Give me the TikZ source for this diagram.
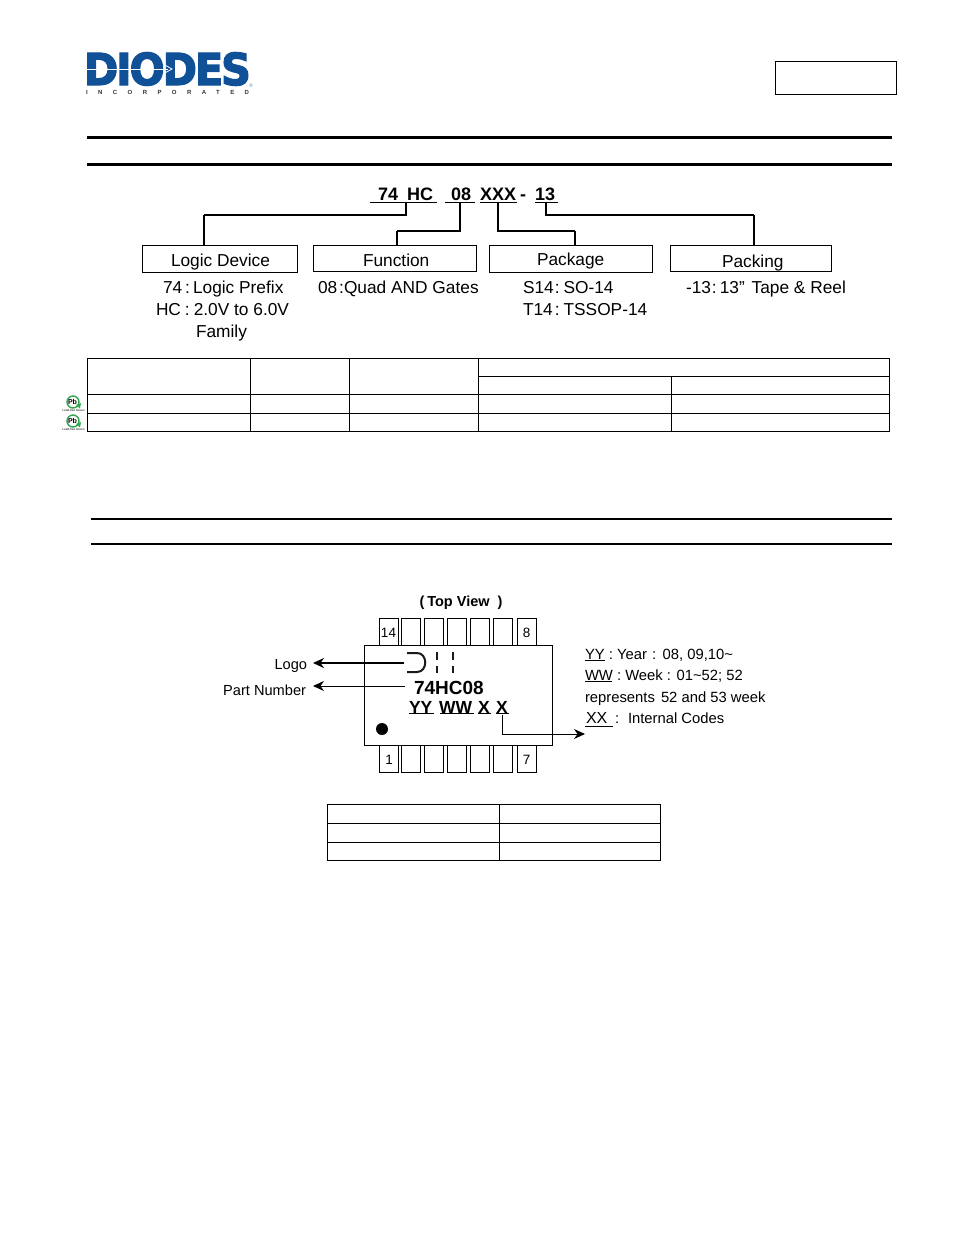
\documentclass[tikz,border=0pt]{standalone}
\usepackage{fontspec}
\setmainfont{Liberation Sans}
\newfontfamily\logofont[FakeBold=3,LetterSpace=-5]{DejaVu Sans}
\newfontfamily\incfont[LetterSpace=174]{Liberation Sans}
\usetikzlibrary{arrows.meta}
\definecolor{diodesblue}{HTML}{0F5096}
\definecolor{leafgreen}{HTML}{2FA84F}
\definecolor{chipink}{HTML}{1A1A1A}
\newcommand{\sz}[1]{\fontsize{#1}{#1}\selectfont}

\begin{document}
\begin{tikzpicture}[
  x=1pt,
  y=-1pt,
  every node/.style={inner sep=0pt, outer sep=0pt, text=black},
  heavyrule/.style={black, line width=3pt},
  lightrule/.style={black, line width=1.8pt},
  grid/.style={black, line width=0.9pt},
  catbox/.style={draw=black, line width=1pt, anchor=north west},
  link/.style={black, line width=1.2pt},
  boldlink/.style={black, line width=1.8pt},
  uline/.style={black, line width=1pt},
  codetext/.style={anchor=base west, font=\sz{18}\bfseries},
  desc/.style={anchor=base west, font=\sz{17.3}},
  note/.style={anchor=base west, font=\sz{14.8}},
  pinbox/.style={draw=black, line width=1pt, anchor=north west,
                 minimum width=19pt, minimum height=27pt},
  pinnum/.style={font=\sz{13.5}},
  pointer/.style={black, line width=1pt, -{Stealth[length=11pt, width=10pt]}},
  pointerbold/.style={black, line width=1.8pt, -{Stealth[length=11pt, width=10pt]}}
]
  \useasboundingbox (0,0) rectangle (954,1235);

  % ---- company mark ------------------------------------------------------
  \node[anchor=base west, text=diodesblue, font=\logofont\bfseries\sz{44},
        xscale=0.94] (mark) at (84,85) {DIODES};
  \draw[white, line width=1pt] (84,69) -- (168,69);
  \draw[white, line width=0.8pt] (163,64) -- (172,69) -- (163,74);
  \node[anchor=base west, text=diodesblue!70, font=\sz{5}] (regmark) at (249,87) {\textregistered};
  \node[anchor=base west, text=black!80, font=\incfont\bfseries\sz{6}] (incname) at (86,94) {INCORPORATED};

  % ---- part number box and section rules ---------------------------------
  \draw[black, line width=1pt] (775.5,61.5) rectangle (896,94.5);
  \draw[heavyrule] (87,137.5) -- (892,137.5);
  \draw[heavyrule] (87,164.5) -- (892,164.5);

  % ---- ordering code ------------------------------------------------------
  \node[codetext] (code74) at (378,200.5) {74};
  \node[codetext] (codehc) at (407,200.5) {HC};
  \node[codetext] (code08) at (451,200.5) {08};
  \node[codetext] (codexxx) at (480,200.5) {XXX};
  \node[codetext] (codedash) at (520,200.5) {-};
  \node[codetext] (code13) at (535,200.5) {13};
  \draw[uline] (370,202) -- (437,202);
  \draw[uline] (445,202) -- (475,202);
  \draw[uline] (480,202) -- (517,202);
  \draw[uline] (535,202) -- (558,202);

  % ---- category boxes ------------------------------------------------------
  \node[catbox, minimum width=155pt, minimum height=27pt] (logicbox) at (142.5,245.5) {};
  \node[catbox, minimum width=163pt, minimum height=26pt] (funcbox) at (313.5,245.5) {};
  \node[catbox, minimum width=163pt, minimum height=27pt] (packbox) at (489.5,245.5) {};
  \node[catbox, minimum width=161pt, minimum height=26pt] (tapebox) at (670.5,245.5) {};
  \node[desc] (logiclabel) at (171,266.5) {Logic Device};
  \node[desc] (funclabel) at (363,266) {Function};
  \node[desc] (packlabel) at (537,265) {Package};
  \node[desc] (tapelabel) at (722,267) {Packing};

  % ---- connectors from the code to the boxes ------------------------------
  \coordinate (tap74) at (406,202);
  \coordinate (tap08) at (460,202);
  \coordinate (tapxxx) at (498,202);
  \coordinate (tap13) at (546,202);
  \coordinate (logicin) at (204,245);
  \coordinate (funcin) at (397,245);
  \coordinate (packin) at (575,245);
  \coordinate (tapein) at (754,245);
  \draw[link] (tap74) |- (204,215);
  \draw[boldlink] (204,215) -- (logicin);
  \draw[link] (tap08) |- (397,231);
  \draw[boldlink] (397,231) -- (funcin);
  \draw[boldlink] (tapxxx) |- (575,231);
  \draw[link] (575,231) -- (packin);
  \draw[link] (tap13) |- (754,215);
  \draw[boldlink] (754,215) -- (tapein);

  % ---- descriptions ---------------------------------------------------------
  \node[desc] (d74) at (163,293) {74\hspace{3pt}:\hspace{3pt}Logic Prefix};
  \node[desc] (dhc) at (156,315) {HC\hspace{4pt}:\hspace{4pt}2.0V to 6.0V};
  \node[desc] (dfam) at (196,337) {Family};
  \node[desc] (d08) at (318,293) {08\hspace{2pt}:Quad AND Gates};
  \node[desc] (ds14) at (523,293) {S14\hspace{1pt}:\hspace{4pt}SO-14};
  \node[desc] (dt14) at (523,315) {T14\hspace{2pt}:\hspace{4pt}TSSOP-14};
  \node[desc] (dreel) at (686,293) {-13\hspace{1pt}:\hspace{3pt}13''\hspace{2pt} Tape \& Reel};

  % ---- ordering table ---------------------------------------------------------
  \draw[grid] (87.5,358.5) rectangle (889.5,431.5);
  \draw[grid] (478.5,376.5) -- (889.5,376.5);
  \foreach \y in {394.5, 413.5}
    \draw[grid] (87.5,\y) -- (889.5,\y);
  \foreach \x in {250.5, 349.5, 478.5}
    \draw[grid] (\x,358.5) -- (\x,431.5);
  \draw[grid] (671.5,376.5) -- (671.5,431.5);

  % ---- lead free marks ----------------------------------------------------------
  \foreach \y/\n in {402/a, 421/b} {
    \draw[leafgreen, line width=1.4pt] (73,\y) circle (6);
    \fill[leafgreen] (76,\y+3) -- (81,\y+1) -- (80,\y+6.5) -- cycle;
    \node[font=\sz{7}\bfseries] (pb\n) at (72.5,\y) {Pb};
    \node[font=\sz{3}] (free\n) at (73.5,\y+8) {Lead-free Green};
  }

  % ---- second section rules --------------------------------------------------------
  \draw[lightrule] (91,519) -- (892,519);
  \draw[lightrule] (91,544) -- (892,544);

  % ---- package outline ------------------------------------------------------------
  \node[anchor=base, font=\sz{14.5}\bfseries] (topview) at (461,606) {(\hspace{3pt}Top View\hspace{8pt})};
  \foreach \px/\n in {379/1, 401/2, 424/3, 447/4, 470/5, 493/6, 517/7} {
    \node[pinbox] (toppin\n) at (\px+0.5,618.5) {};
    \node[pinbox] (botpin\n) at (\px+0.5,745.5) {};
  }
  \node[draw=black, line width=1pt, anchor=north west, fill=white,
        minimum width=188pt, minimum height=100pt] (body) at (364.5,645.5) {};
  \node[pinnum] (num14) at (388.5,632.5) {14};
  \node[pinnum] (num8) at (526.5,633) {8};
  \node[pinnum] (num1) at (389,760) {1};
  \node[pinnum] (num7) at (526.5,760) {7};

  % ---- marking on the package ---------------------------------------------------
  \draw[chipink, line width=2pt] (407,653) -- (417,653)
    .. controls (428,653) and (428,672) .. (417,672) -- (407,672);
  \foreach \x in {437, 453} {
    \draw[chipink, line width=2.6pt] (\x,652) -- (\x,660);
    \draw[chipink, line width=2.6pt] (\x,666) -- (\x,673);
  }
  \node[anchor=base west, font=\sz{19}\bfseries] (partno) at (414,694) {74HC08};
  \node[anchor=base west, font=\sz{17.5}\bfseries] (datecode) at (409,713) {YY};
  \node[anchor=base west, font=\sz{17.5}\bfseries] (weekcode) at (439,713) {WW};
  \node[anchor=base west, font=\sz{17.5}\bfseries] (xone) at (478,713) {X};
  \node[anchor=base west, font=\sz{17.5}\bfseries] (xtwo) at (496,713) {X};
  \draw[uline] (409,713) -- (434,713);
  \draw[uline] (440,713) -- (474,713);
  \draw[uline] (478,713) -- (491,713);
  \draw[uline] (496,713) -- (509,713);
  \fill[black] (382,729) circle (6);

  % ---- callouts ---------------------------------------------------------------------
  \node[anchor=base east, font=\sz{14.6}] (logolabel) at (307,669) {Logo};
  \node[anchor=base east, font=\sz{14.6}] (partlabel) at (306,695) {Part Number};
  \coordinate (logotail) at (404,663);
  \coordinate (logohead) at (313,663);
  \coordinate (parttail) at (405,686);
  \coordinate (parthead) at (313,686);
  \coordinate (codetail) at (502,715);
  \coordinate (codehead) at (585,734);
  \draw[pointerbold] (logotail) -- (logohead);
  \draw[pointer] (parttail) -- (parthead);
  \draw[pointer] (codetail) |- (codehead);

  % ---- marking legend -------------------------------------------------------------------
  \node[note] (noteyy) at (585,659) {YY : Year\hspace{1pt} : \hspace{1pt}08, 09,10\textasciitilde};
  \node[note] (noteww) at (585,680) {WW : Week : 01\textasciitilde52; 52};
  \node[note] (noterep) at (585,702) {represents\hspace{2pt} 52 and 53 week};
  \node[note, font=\sz{16}] (notexx) at (586,723) {XX};
  \node[note] (notecolon) at (615,723) {:};
  \node[note] (noteint) at (628,723) {Internal Codes};
  \draw[uline] (585,660.5) -- (605,660.5);
  \draw[uline] (585,681) -- (612,681);
  \draw[uline] (585,726) -- (613,726);

  % ---- marking table -----------------------------------------------------------------------
  \draw[grid] (327.5,804.5) rectangle (660.5,860.5);
  \foreach \y in {823.5, 842.5}
    \draw[grid] (327.5,\y) -- (660.5,\y);
  \draw[grid] (499.5,804.5) -- (499.5,860.5);
\end{tikzpicture}
\end{document}
